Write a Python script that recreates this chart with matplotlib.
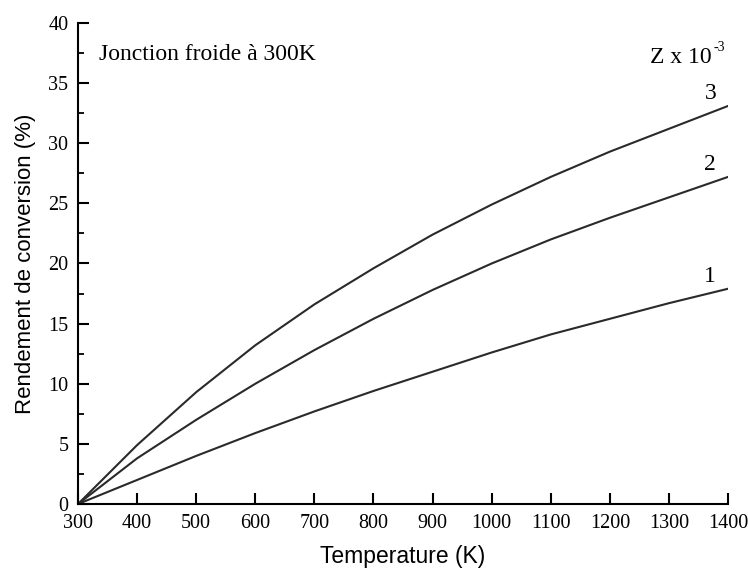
import matplotlib.pyplot as plt
from matplotlib.ticker import MultipleLocator

temps = [300, 400, 500, 600, 700, 800, 900, 1000, 1100, 1200, 1300, 1400]
z1 = [0, 2.0, 4.0, 5.9, 7.7, 9.4, 11.0, 12.6, 14.1, 15.4, 16.7, 17.9]
z2 = [0, 3.8, 7.0, 10.0, 12.8, 15.4, 17.8, 20.0, 22.0, 23.8, 25.5, 27.2]
z3 = [0, 4.9, 9.3, 13.2, 16.6, 19.6, 22.4, 24.9, 27.2, 29.3, 31.2, 33.1]
curve_labels = ["1", "2", "3"]

fig = plt.figure(figsize=(7.48, 5.73), dpi=100)
ax = fig.add_axes([0.1043, 0.1204, 0.8690, 0.8395])

for vals, lab in zip([z1, z2, z3], curve_labels):
    ax.plot(temps, vals, color="#2a2a2a", lw=1.5)
    ax.text(1370, vals[-1] + 0.15, lab, family="Liberation Serif",
            fontsize=17, ha="center", va="bottom")

ax.set_xlim(300, 1400)
ax.set_ylim(0, 40)
ax.set_xticks(temps)
ax.yaxis.set_major_locator(MultipleLocator(5))
ax.yaxis.set_minor_locator(MultipleLocator(2.5))

for s in ["top", "right"]:
    ax.spines[s].set_visible(False)
for s in ["left", "bottom"]:
    ax.spines[s].set_linewidth(1.5)

ax.tick_params(which="major", direction="in", length=8, width=1.5, pad=7)
ax.tick_params(which="minor", direction="in", length=4.5, width=1.3)
for lbl in ax.get_xticklabels() + ax.get_yticklabels():
    lbl.set_family("Liberation Serif")
    lbl.set_fontsize(14.5)

ax.set_xlabel("Temperature (K)", family="Liberation Sans", fontsize=16.5, labelpad=9)
ax.set_ylabel("Rendement de conversion (%)", family="Liberation Sans", fontsize=16, labelpad=9)

ax.text(335, 37.4, "Jonction froide à 300K", family="Liberation Serif", fontsize=17, va="center")
ax.text(1373, 37.1, "Z x 10", family="Liberation Serif", fontsize=17, va="center", ha="right")
ax.text(1375, 38.0, "-3", family="Liberation Serif", fontsize=10, va="center", ha="left")

fig.savefig("out.png", dpi=100)
